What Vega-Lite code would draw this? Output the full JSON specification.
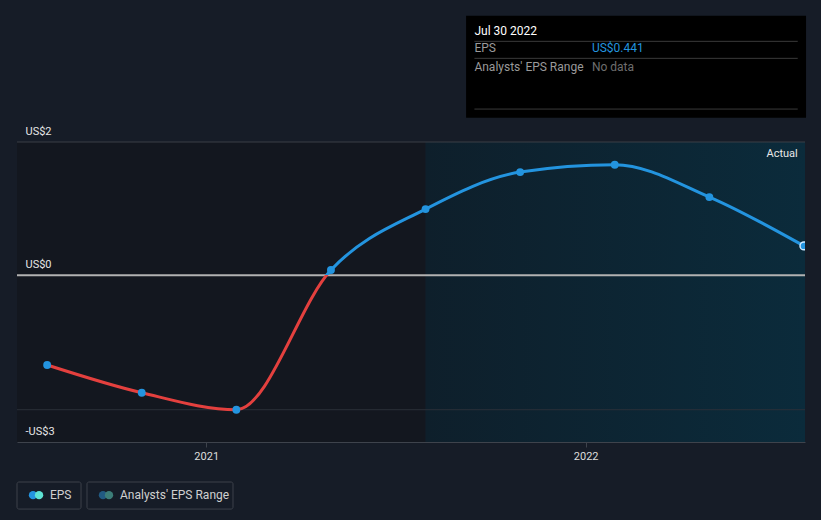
{
  "$schema": "https://vega.github.io/schema/vega-lite/v6.json",
  "width": 788,
  "height": 300,
  "autosize": {"type": "none"},
  "padding": {"left": 17, "top": 142, "right": 16, "bottom": 78},
  "background": "#161c27",
  "config": {
    "view": {"stroke": null},
    "font": "Roboto"
  },
  "resolve": {"scale": {"color": "independent", "stroke": "independent", "strokeWidth": "independent"}},
  "datasets": {
    "eps": [
      {"date": "2020-08-01", "eps": -1.345},
      {"date": "2020-10-31", "eps": -1.761},
      {"date": "2021-01-30", "eps": -2.016},
      {"date": "2021-05-01", "eps": 0.08},
      {"date": "2021-07-31", "eps": 0.994},
      {"date": "2021-10-30", "eps": 1.549},
      {"date": "2022-01-29", "eps": 1.659},
      {"date": "2022-04-30", "eps": 1.174},
      {"date": "2022-07-30", "eps": 0.441}
    ],
    "regions": [
      {"start": "2020-07-03", "end": "2021-07-31", "kind": "past"},
      {"start": "2021-07-31", "end": "2022-07-31", "kind": "actual"}
    ]
  },
  "layer": [
    {
      "data": {"name": "regions"},
      "transform": [{"filter": "datum.kind == 'past'"}],
      "mark": {"type": "rect", "color": "#13171f"},
      "encoding": {
        "x": {"field": "start", "type": "temporal", "scale": {"domain": ["2020-07-03", "2022-07-31"]},
          "axis": {"domainColor": "#3e434c", "tickColor": "#3e434c", "tickSize": 5, "labelColor": "#dcdcdc", "labelFontSize": 11, "labelPadding": 3, "grid": false, "format": "%Y", "tickCount": {"interval": "year", "step": 1}, "title": null, "zindex": 2}},
        "x2": {"field": "end"},
        "y": {"datum": 2, "type": "quantitative", "scale": {"domain": [-2.5, 2]},
          "axis": {"domain": false, "ticks": false, "tickSize": 0, "grid": false, "labelAlign": "left", "labelPadding": -8, "labelBaseline": "alphabetic", "labelOffset": -8, "labelColor": "#e6e6e6", "labelFontSize": 11, "values": [2, 0, -2.5], "labelExpr": "datum.value == 2 ? 'US$2' : datum.value == 0 ? 'US$0' : '-US$3'", "labelOverlap": false, "labelBound": false, "labelFlush": false, "title": null, "zindex": 2}},
        "y2": {"datum": -2.5}
      }
    },
    {
      "data": {"name": "regions"},
      "transform": [{"filter": "datum.kind == 'actual'"}],
      "mark": {"type": "rect", "color": {"gradient": "linear", "x1": 0, "x2": 1, "y1": 0, "y2": 0, "stops": [{"offset": 0, "color": "#0e1f2b"}, {"offset": 1, "color": "#0b2b3b"}]}},
      "encoding": {
        "x": {"field": "start", "type": "temporal"},
        "x2": {"field": "end"},
        "y": {"datum": 2, "type": "quantitative"},
        "y2": {"datum": -2.5}
      }
    },
    {
      "data": {"values": [{"v": 2}]},
      "mark": {"type": "rule", "color": "#3a3f47", "strokeWidth": 1},
      "encoding": {"y": {"field": "v", "type": "quantitative"}}
    },
    {
      "data": {"values": [{"v": -2.016}]},
      "mark": {"type": "rule", "color": "#2b3039", "strokeWidth": 1},
      "encoding": {"y": {"field": "v", "type": "quantitative"}}
    },
    {
      "data": {"values": [{"v": 0}]},
      "mark": {"type": "rule", "color": "#b2b2b2", "strokeWidth": 2},
      "encoding": {"y": {"field": "v", "type": "quantitative"}}
    },
    {
      "data": {"name": "eps"},
      "mark": {"type": "line", "interpolate": "monotone", "strokeWidth": 3,
        "stroke": {"gradient": "linear", "x1": 0, "x2": 0, "y1": 0, "y2": 1, "stops": [
          {"offset": 0, "color": "#2394df"}, {"offset": 0.4514, "color": "#2394df"},
          {"offset": 0.4515, "color": "#e4403e"}, {"offset": 1, "color": "#e4403e"}]}},
      "encoding": {
        "x": {"field": "date", "type": "temporal"},
        "y": {"field": "eps", "type": "quantitative"}
      }
    },
    {
      "data": {"name": "eps"},
      "mark": {"type": "point", "filled": true, "size": 62, "opacity": 1, "clip": true},
      "encoding": {
        "x": {"field": "date", "type": "temporal"},
        "y": {"field": "eps", "type": "quantitative"},
        "color": {"value": "#2394df"},
        "stroke": {"condition": {"test": "datum.eps == 0.441", "value": "#cfe8ff"}, "value": "#2394df"},
        "strokeWidth": {"condition": {"test": "datum.eps == 0.441", "value": 1.5}, "value": 0}
      }
    },
    {
      "data": {"values": [{"date": "2022-07-24", "v": 1.82, "t": "Actual"}]},
      "mark": {"type": "text", "align": "right", "baseline": "middle", "fontSize": 11, "color": "#e8e8e8"},
      "encoding": {"x": {"field": "date", "type": "temporal"}, "y": {"field": "v", "type": "quantitative"}, "text": {"field": "t"}}
    },
    {
      "data": {"values": [{"a": "2021-09-08", "b": "2022-08-01", "y1": 3.894, "y2": 2.364}]},
      "mark": {"type": "rect", "color": "#000000", "clip": false},
      "encoding": {
        "x": {"field": "a", "type": "temporal"}, "x2": {"field": "b"},
        "y": {"field": "y1", "type": "quantitative"}, "y2": {"field": "y2"}
      }
    },
    {
      "data": {"values": [{"a": "2021-09-16", "b": "2022-07-24", "v": 3.51}, {"a": "2021-09-16", "b": "2022-07-24", "v": 3.255}, {"a": "2021-09-16", "b": "2022-07-24", "v": 2.494}]},
      "mark": {"type": "rule", "color": "#3a3a3a", "strokeWidth": 1, "clip": false},
      "encoding": {
        "x": {"field": "a", "type": "temporal"}, "x2": {"field": "b"},
        "y": {"field": "v", "type": "quantitative"}
      }
    },
    {
      "data": {"values": [
        {"d": "2021-09-16", "v": 3.665, "t": "Jul 30 2022", "k": "title"},
        {"d": "2021-09-16", "v": 3.41, "t": "EPS", "k": "label"},
        {"d": "2021-09-16", "v": 3.132, "t": "Analysts' EPS Range", "k": "label"},
        {"d": "2022-01-07", "v": 3.41, "t": "US$0.441", "k": "value"},
        {"d": "2022-01-07", "v": 3.132, "t": "No data", "k": "nodata"}
      ]},
      "mark": {"type": "text", "align": "left", "baseline": "middle", "fontSize": 12, "clip": false},
      "encoding": {
        "x": {"field": "d", "type": "temporal"},
        "y": {"field": "v", "type": "quantitative"},
        "text": {"field": "t"},
        "color": {"field": "k", "type": "nominal", "scale": {"domain": ["title", "label", "value", "nodata"], "range": ["#ffffff", "#9a9a9a", "#2394df", "#6e6e6e"]}, "legend": null},
        "fontWeight": {"condition": {"test": "datum.k == 'value'", "value": "bold"}, "value": "normal"}
      }
    },
    {
      "data": {"values": [
        {"a": "2020-07-03", "b": "2020-09-02T14:00", "y1": -3.1, "y2": -3.506},
        {"a": "2020-09-08T08:00", "b": "2021-01-26T19:00", "y1": -3.1, "y2": -3.506}
      ]},
      "mark": {"type": "rect", "fill": "#161c27", "stroke": "#3c414a", "strokeWidth": 1, "cornerRadius": 2, "clip": false},
      "encoding": {
        "x": {"field": "a", "type": "temporal"}, "x2": {"field": "b"},
        "y": {"field": "y1", "type": "quantitative"}, "y2": {"field": "y2"}
      }
    },
    {
      "data": {"values": [
        {"d": "2020-07-18T10:00", "c": "a"},
        {"d": "2020-07-24T05:00", "c": "b"},
        {"d": "2020-09-23T17:00", "c": "c"},
        {"d": "2020-09-29T12:00", "c": "d"}
      ]},
      "mark": {"type": "circle", "size": 70, "opacity": 1, "clip": false},
      "encoding": {
        "x": {"field": "d", "type": "temporal"},
        "y": {"datum": -3.297, "type": "quantitative"},
        "color": {"field": "c", "type": "nominal", "scale": {"domain": ["a", "b", "c", "d"], "range": ["#2394df", "#5ee3d3", "#215a82", "#3c7d78"]}, "legend": null}
      }
    },
    {
      "data": {"values": [
        {"d": "2020-08-03T17:00", "t": "EPS"},
        {"d": "2020-10-10T02:00", "t": "Analysts' EPS Range"}
      ]},
      "mark": {"type": "text", "align": "left", "baseline": "middle", "fontSize": 12, "color": "#d0d0d0", "clip": false},
      "encoding": {
        "x": {"field": "d", "type": "temporal"},
        "y": {"datum": -3.297, "type": "quantitative"},
        "text": {"field": "t"}
      }
    }
  ]
}
